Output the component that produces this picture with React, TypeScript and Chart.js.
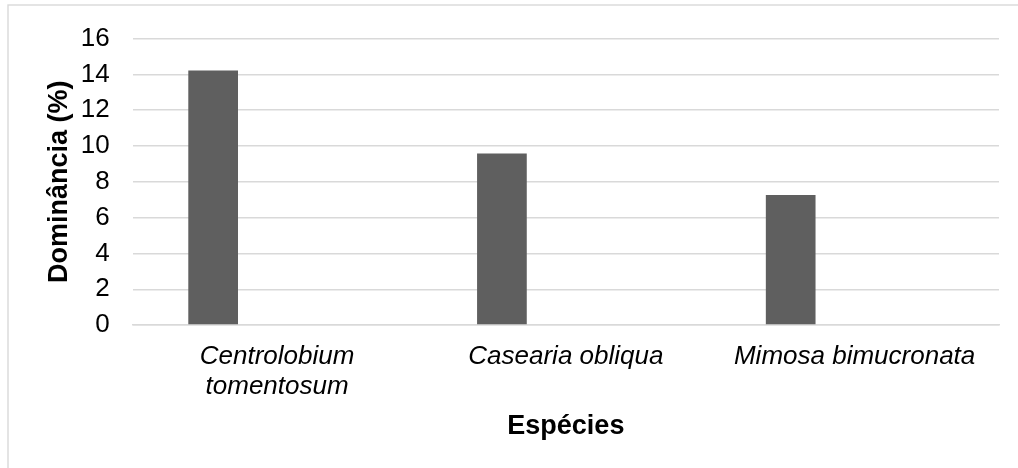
import React, { useEffect, useRef } from "react";
import { Chart, registerables } from "chart.js";

Chart.register(...registerables);

// Species on the category axis (first one wraps onto two lines)
const species: (string | string[])[] = [
  ["Centrolobium", "tomentosum"],
  "Casearia obliqua",
  "Mimosa bimucronata",
];

// Dominance per species, in percent
const dominance: number[] = [14.22, 9.58, 7.26];

// Second, empty series of the grouped bar layout
const emptySeries: (number | null)[] = [null, null, null];

const yTicks = { min: 0, max: 16, step: 2 };

const yTitle = "Dominância (%)";
const xTitle = "Espécies";

const WIDTH = 1018;
const HEIGHT = 468;
const FONT = "'Liberation Sans', Arial, Helvetica, sans-serif";

// Light grey frame around the whole chart
const framePlugin = {
  id: "frame",
  beforeDraw(chart: Chart) {
    const { ctx } = chart;
    ctx.save();
    ctx.fillStyle = "#ffffff";
    ctx.fillRect(0, 0, chart.width, chart.height);
    ctx.strokeStyle = "#d9d9d9";
    ctx.lineWidth = 1.4;
    ctx.strokeRect(8, 5, chart.width + 20, chart.height + 20);
    ctx.restore();
  },
};

export default function App() {
  const canvasRef = useRef<HTMLCanvasElement | null>(null);

  useEffect(() => {
    const canvas = canvasRef.current;
    if (!canvas) return;
    const chart = new Chart(canvas, {
      type: "bar",
      data: {
        labels: species,
        datasets: [
          {
            label: "Dominância",
            data: dominance,
            backgroundColor: "#5f5f5f",
            borderWidth: 0,
            categoryPercentage: 0.8856,
            barPercentage: 0.3887,
          },
          {
            label: "",
            data: emptySeries,
            backgroundColor: "#a5a5a5",
            borderWidth: 0,
            categoryPercentage: 0.8856,
            barPercentage: 0.3887,
          },
        ],
      },
      options: {
        animation: false,
        responsive: false,
        devicePixelRatio: 1,
        layout: { padding: { left: 0, right: 19, top: 34, bottom: 0 } },
        plugins: {
          legend: { display: false },
          tooltip: { enabled: false },
        },
        scales: {
          x: {
            grid: { display: false, drawTicks: false },
            border: { display: true, color: "#d9d9d9", width: 1.4 },
            ticks: {
              color: "#000000",
              padding: 17,
              maxRotation: 0,
              autoSkip: false,
              font: { family: FONT, size: 26, style: "italic", lineHeight: 30 / 26 },
            },
            title: {
              display: true,
              text: xTitle,
              color: "#000000",
              padding: { top: 0, bottom: 25 },
              font: { family: FONT, size: 27, weight: "bold", lineHeight: 1.2 },
            },
            afterFit(scale: any) {
              scale.height = 143;
            },
          },
          y: {
            min: yTicks.min,
            max: yTicks.max,
            grid: { color: "#d9d9d9", lineWidth: 1.4, drawTicks: false },
            border: { display: false },
            ticks: {
              stepSize: yTicks.step,
              color: "#000000",
              padding: 23,
              font: { family: FONT, size: 26, lineHeight: 1.2 },
            },
            title: {
              display: true,
              text: yTitle,
              color: "#000000",
              padding: { top: 43, bottom: 0 },
              font: { family: FONT, size: 27, weight: "bold", lineHeight: 1.2 },
            },
            afterFit(scale: any) {
              scale.width = 132.7;
            },
          },
        },
      },
      plugins: [framePlugin],
    });
    return () => chart.destroy();
  }, []);

  return (
    <canvas
      ref={canvasRef}
      width={WIDTH}
      height={HEIGHT}
      style={{
        position: "absolute",
        left: 0,
        top: 0,
        width: `${WIDTH}px`,
        height: `${HEIGHT}px`,
        display: "block",
      }}
    />
  );
}
